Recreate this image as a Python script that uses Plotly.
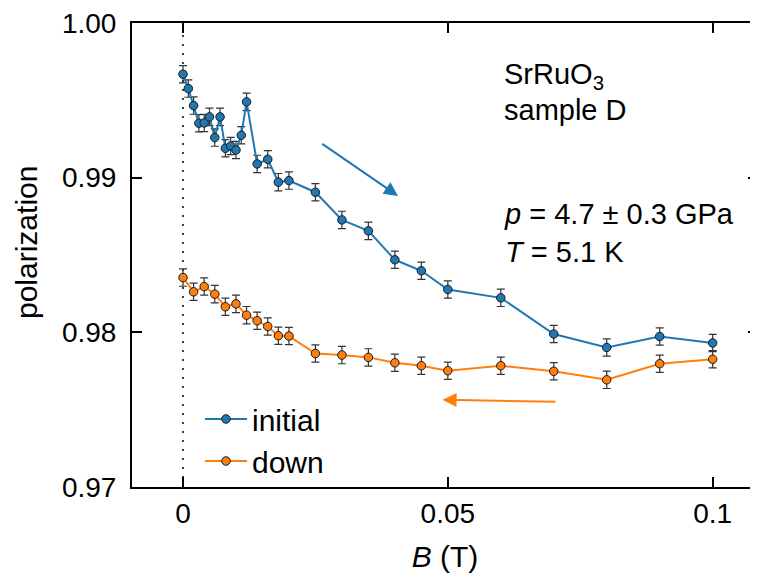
import plotly.graph_objects as go

# ---- data ----
b_initial = [0.000, 0.001, 0.002, 0.003, 0.004, 0.005, 0.006, 0.007, 0.008, 0.009,
             0.010, 0.011, 0.012, 0.014, 0.016, 0.018, 0.020, 0.025, 0.030, 0.035,
             0.040, 0.045, 0.050, 0.060, 0.070, 0.080, 0.090, 0.100]
p_initial = [0.99669, 0.99576, 0.99466, 0.99352, 0.99354, 0.99393, 0.99259, 0.99393, 0.99190, 0.99205,
             0.99179, 0.99274, 0.99490, 0.99089, 0.99119, 0.98971, 0.98981, 0.98906, 0.98727, 0.98656,
             0.98469, 0.98398, 0.98277, 0.98223, 0.97989, 0.97902, 0.97973, 0.97931]
err_initial = [0.00056] * len(b_initial)

b_down = [0.000, 0.002, 0.004, 0.006, 0.008, 0.010, 0.012, 0.014, 0.016, 0.018,
          0.020, 0.025, 0.030, 0.035, 0.040, 0.045, 0.050, 0.060, 0.070, 0.080,
          0.090, 0.100]
p_down = [0.98354, 0.98262, 0.98296, 0.98247, 0.98165, 0.98184, 0.98111, 0.98075, 0.98038, 0.97978,
          0.97976, 0.97863, 0.97853, 0.97838, 0.97803, 0.97784, 0.97752, 0.97784, 0.97748, 0.97693,
          0.97797, 0.97826]
err_down = [0.00056] * len(b_down)

x_ticks = [0, 0.05, 0.1]
x_ticklabels = ["0", "0.05", "0.1"]
y_ticks = [0.97, 0.98, 0.99, 1.00]
y_ticklabels = ["0.97", "0.98", "0.99", "1.00"]

BLUE = "#1f77b4"
ORANGE = "#ff7f0e"
FONT = "Liberation Sans, Arial, Helvetica, sans-serif"
FS_TICK = 28
FS_TEXT = 29
FS_TITLE = 30

# the page body has an 8 px margin; the figure is sized to fill the rest
OFF = 8
W, H = 758 - OFF, 578 - OFF
ML, MT, MR = 132 - OFF, 23 - OFF, 0
MB = 578 - 487   # plot bottom at page y = 487
PLOT_W = W - ML - MR
PLOT_H = H - MT - MB

fig = go.Figure()

def add_series(x, y, err, color, name):
    fig.add_trace(go.Scatter(
        x=x, y=y, name=name, mode="lines+markers",
        line=dict(color=color, width=2),
        marker=dict(color=color, size=8.5, line=dict(color="#1a1a1a", width=1)),
        error_y=dict(type="data", array=err, visible=True, color="#333333",
                     thickness=1.2, width=4),
    ))

add_series(b_initial, p_initial, err_initial, BLUE, "initial")
add_series(b_down, p_down, err_down, ORANGE, "down")

# dummy trace to carry the right-hand tick axis
fig.add_trace(go.Scatter(x=[None], y=[None], yaxis="y2", showlegend=False,
                         hoverinfo="skip"))

# dotted vertical line at B = 0
fig.add_shape(type="line", xref="x", yref="paper", x0=0, x1=0, y0=0, y1=1,
              line=dict(color="black", width=1.5, dash="2px,7px"), layer="below")

# direction arrows
fig.add_annotation(x=0.0406, y=0.98882, ax=0.0260, ay=0.99225,
                   xref="x", yref="y", axref="x", ayref="y", text="",
                   showarrow=True, arrowhead=2, arrowsize=1.4, arrowwidth=2,
                   arrowcolor=BLUE)
fig.add_annotation(x=0.0490, y=0.97564, ax=0.0706, ay=0.97551,
                   xref="x", yref="y", axref="x", ayref="y", text="",
                   showarrow=True, arrowhead=2, arrowsize=1.4, arrowwidth=2,
                   arrowcolor=ORANGE)

def px_to_paper(px, py):
    # page pixel -> paper coordinates (page = figure + body margin)
    fx, fy = px - OFF, py - OFF
    return (fx - ML) / PLOT_W, (H - MB - fy) / PLOT_H

# text labels
txt_font = dict(family=FONT, size=FS_TEXT, color="black")
x0, y0 = px_to_paper(502, 76)
fig.add_annotation(x=x0, y=y0, xref="paper", yref="paper",
                   xanchor="left", yanchor="middle", showarrow=False,
                   text="SrRuO<sub>3</sub>", font=txt_font)
x0, y0 = px_to_paper(502, 110)
fig.add_annotation(x=x0, y=y0, xref="paper", yref="paper",
                   xanchor="left", yanchor="middle", showarrow=False,
                   text="sample D", font=txt_font)
x0, y0 = px_to_paper(502, 233)
fig.add_annotation(x=x0, y=y0, xref="paper", yref="paper",
                   xanchor="left", yanchor="middle", align="left", showarrow=False,
                   text="<i>p</i> = 4.7 ± 0.3 GPa<br><i>T</i> = 5.1 K",
                   font=txt_font)
# y-axis title
x0, y0 = px_to_paper(27, 242)
fig.add_annotation(x=x0, y=y0, xref="paper", yref="paper",
                   xanchor="center", yanchor="middle", textangle=-90, showarrow=False,
                   text="polarization", font=dict(family=FONT, size=FS_TITLE, color="black"))

axis_common = dict(showgrid=False, zeroline=False, showline=True, linecolor="black",
                   linewidth=2, ticks="inside", ticklen=10, tickwidth=2,
                   tickcolor="black", automargin=False, ticklabeloverflow="allow",
                   tickfont=dict(family=FONT, size=FS_TICK, color="black"))

lx, ly = px_to_paper(200, 393)

fig.update_layout(
    width=W, height=H,
    margin=dict(l=ML, r=MR, t=MT, b=MB),
    paper_bgcolor="white", plot_bgcolor="white",
    font=dict(family=FONT, size=FS_TICK, color="black"),
    xaxis=dict(range=[-0.00963, 0.10856], tickvals=x_ticks, ticktext=x_ticklabels,
               mirror="ticks", title=dict(text="<i>B</i> (T)", standoff=18,
                                          font=dict(family=FONT, size=FS_TITLE)),
               **axis_common),
    yaxis=dict(range=[0.97, 1.00], tickvals=y_ticks, ticktext=y_ticklabels,
               mirror=False, ticklabelstandoff=8, **axis_common),
    yaxis2=dict(range=[0.97, 1.00], overlaying="y", side="right", anchor="x",
                tickvals=y_ticks, showticklabels=False, showline=False,
                showgrid=False, zeroline=False, ticks="inside", ticklen=10,
                tickwidth=2, tickcolor="black", automargin=False),
    legend=dict(x=lx, y=ly, xanchor="left", yanchor="top",
                bgcolor="rgba(0,0,0,0)", itemwidth=42,
                font=dict(family=FONT, size=FS_TITLE, color="black")),
    showlegend=True,
)

fig.write_html("out.html")
